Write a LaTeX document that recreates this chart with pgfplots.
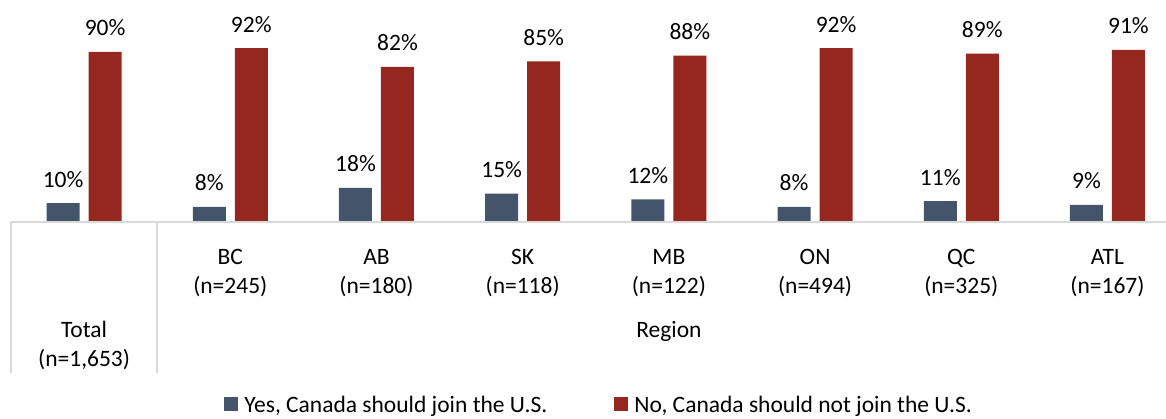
\documentclass[border=0pt]{standalone}
\usepackage{pgfplots}
\pgfplotsset{compat=1.18}
\usepackage{fontspec}
\setmainfont{Carlito}
\definecolor{yesblue}{HTML}{44546A}
\definecolor{nored}{HTML}{95271F}
\definecolor{sepgray}{HTML}{D9D9D9}
\begin{document}
\begin{tikzpicture}[font=\fontsize{23.5}{29}\selectfont]
\useasboundingbox (-11pt,-197pt) rectangle (1155pt,222pt);
\begin{axis}[
    at={(0pt,0pt)}, anchor=south west,
    scale only axis, width=1169.6pt, height=208pt,
    ymin=0, ymax=110, xmin=-0.5, xmax=7.5,
    ybar=9pt, bar width=33pt,
    axis line style={draw=none},
    ytick=\empty, xtick={0,...,7}, major tick length=0pt,
    xticklabels={{}, {BC\\(n=245)}, {AB\\(n=180)}, {SK\\(n=118)}, {MB\\(n=122)},
                 {ON\\(n=494)}, {QC\\(n=325)}, {ATL\\(n=167)}},
    xticklabel style={align=center, anchor=north, inner sep=0pt, yshift=-27pt},
    clip=false,
    nodes near coords={\pgfmathprintnumber[assume math mode=true]{\pgfplotspointmeta}\%},
    every node near coord/.append style={anchor=base, yshift=16pt, black},
    legend style={draw=none, fill=none, at={(0.502,-0.882)}, anchor=center,
        legend columns=2, font=\fontsize{23.5}{29}\selectfont,
        inner sep=0pt, column sep=6pt, nodes={inner sep=0pt},
        /tikz/every even column/.append style={column sep=67pt}},
    legend image code/.code={\fill[#1, draw=none] (0pt,-6pt) rectangle (14pt,8pt);},
]
\addplot[fill=yesblue, draw=none] coordinates {
    (0,10) (1,8) (2,18) (3,15) (4,12) (5,8) (6,11) (7,9)};
\addplot[fill=nored, draw=none] coordinates {
    (0,90) (1,92) (2,82) (3,85) (4,88) (5,92) (6,89) (7,91)};
\legend{{Yes, Canada should join the U.S.}, {No, Canada should not join the U.S.}}
% separators and baseline
\draw[sepgray, line width=1.5pt] (rel axis cs:0,0) -- (rel axis cs:1,0);
\draw[sepgray, line width=1.5pt] (axis cs:-0.5,0) -- ++(0pt,-151pt);
\draw[sepgray, line width=1.5pt] (axis cs:0.5,0) -- ++(0pt,-151pt);
\node[align=center, anchor=base] at ([yshift=-144pt]axis cs:0,0) {Total\\(n=1,653)};
\node[anchor=base] at ([yshift=-115pt]axis cs:4,0) {Region};
\end{axis}
\end{tikzpicture}
\end{document}
